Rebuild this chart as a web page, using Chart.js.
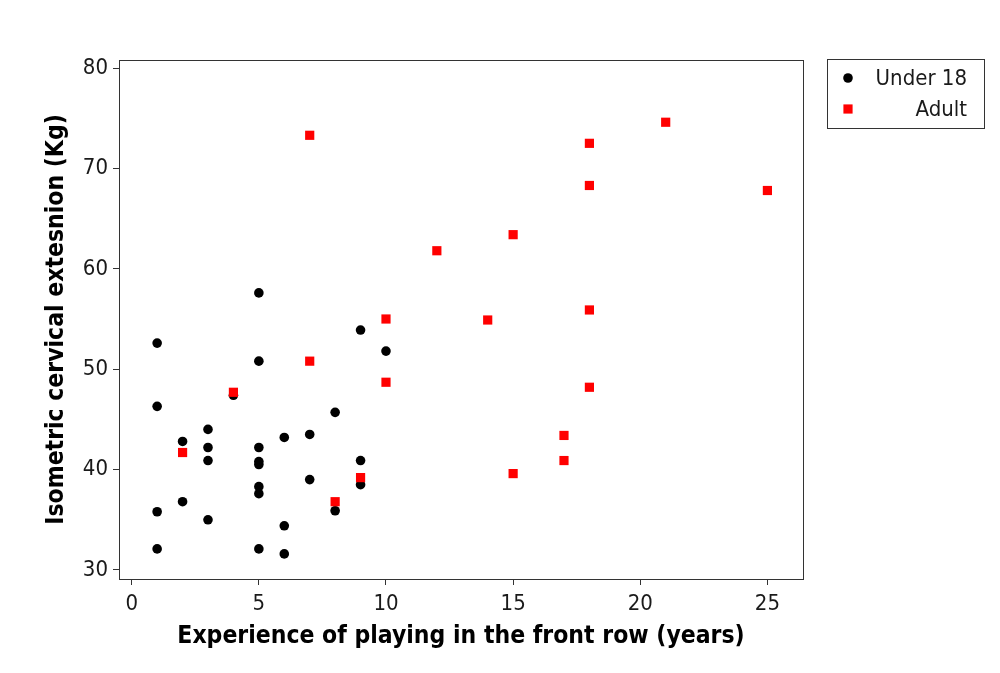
<!DOCTYPE html>
<html>
<head>
<meta charset="utf-8">
<script src="https://cdn.jsdelivr.net/npm/chart.js@4.4.1/dist/chart.umd.min.js"></script>
<style>
  html, body { margin: 0; padding: 0; background: #ffffff; }
  canvas { display: block; }
</style>
</head>
<body>
<canvas id="chart" width="1000" height="673" style="width:1000px;height:673px"></canvas>
<script>
// Experience in the front row (years) and isometric cervical extension (Kg)
const under18Years = [1, 1, 1, 1, 2, 2, 3, 3, 3, 3, 4, 5, 5, 5, 5, 5, 5, 5, 5, 6, 6, 6, 7, 7, 8, 8, 9, 9, 9, 10];
const under18Force = [52.6, 46.3, 35.8, 32.1, 42.8, 36.8, 44.0, 42.2, 40.9, 35.0, 47.4, 57.6, 50.8, 42.2, 40.8, 40.5, 38.3, 37.6, 32.1, 43.2, 34.4, 31.6, 43.5, 39.0, 45.7, 35.9, 53.9, 40.9, 38.5, 51.8];

const adultYears = [2, 4, 7, 7, 8, 9, 10, 10, 12, 14, 15, 15, 17, 17, 18, 18, 18, 18, 21, 25];
const adultForce = [41.7, 47.7, 73.3, 50.8, 36.8, 39.2, 55.0, 48.7, 61.8, 54.9, 63.4, 39.6, 43.4, 40.9, 72.5, 68.3, 55.9, 48.2, 74.6, 67.8];

const seriesNames = ['Under 18', 'Adult'];
const xTickValues = [0, 5, 10, 15, 20, 25];
const yTickValues = [30, 40, 50, 60, 70, 80];
const xTitle = 'Experience of playing in the front row (years)';
const yTitle = 'Isometric cervical extesnion (Kg)';

const toPoints = (xs, ys) => xs.map((x, i) => ({ x: x, y: ys[i] }));

const tickFont = { family: "'DejaVu Sans Condensed', 'DejaVu Sans', sans-serif", size: 22 };
const titleFont = { family: "'DejaVu Sans Condensed', 'DejaVu Sans', sans-serif", size: 24.5, weight: 'bold' };
const axisColor = '#333333';

// Frame around the plot area and the boxed key at the top right
const frameAndKey = {
  id: 'frameAndKey',
  beforeDatasetsDraw(chart) {
    const { ctx, chartArea: a } = chart;
    ctx.save();
    ctx.strokeStyle = axisColor;
    ctx.lineWidth = 1;
    ctx.strokeRect(Math.round(a.left) + 0.5, Math.round(a.top) + 0.5,
                   Math.round(a.right - a.left), Math.round(a.bottom - a.top));
    ctx.restore();
  },
  afterDraw(chart) {
    const { ctx } = chart;
    const box = { left: 827, top: 59, width: 157, height: 69 };
    ctx.save();
    ctx.strokeStyle = axisColor;
    ctx.lineWidth = 1;
    ctx.strokeRect(box.left + 0.5, box.top + 0.5, box.width, box.height);
    ctx.font = "22px 'DejaVu Sans Condensed', 'DejaVu Sans', sans-serif";
    ctx.textAlign = 'right';
    ctx.textBaseline = 'middle';
    const rows = [0, 1].map(k => chart.data.datasets.find(d => d.label === seriesNames[k]));
    rows.forEach((ds, i) => {
      const cy = box.top + 19 + i * 31;
      ctx.fillStyle = ds.backgroundColor;
      Chart.helpers.drawPoint(ctx, {
        pointStyle: ds.pointStyle,
        radius: ds.pointRadius,
        rotation: 0,
        borderWidth: 0
      }, box.left + 21, cy);
      ctx.fillStyle = '#1a1a1a';
      ctx.fillText(ds.label, box.left + 140, cy + 1);
    });
    ctx.restore();
  }
};

new Chart(document.getElementById('chart'), {
  type: 'scatter',
  data: {
    datasets: [
      {
        label: seriesNames[0],
        data: toPoints(under18Years, under18Force),
        pointStyle: 'circle',
        pointRadius: 4.8,
        pointHoverRadius: 4.8,
        backgroundColor: '#000000',
        borderColor: '#000000',
        borderWidth: 0,
        order: 1
      },
      {
        label: seriesNames[1],
        data: toPoints(adultYears, adultForce),
        pointStyle: 'rect',
        pointRadius: 6.5,
        pointHoverRadius: 6.5,
        backgroundColor: '#ff0000',
        borderColor: '#ff0000',
        borderWidth: 0,
        order: 0
      }
    ]
  },
  options: {
    responsive: false,
    devicePixelRatio: 1,
    animation: false,
    events: [],
    layout: { padding: { top: 60, right: 197, bottom: 0, left: 0 } },
    plugins: {
      legend: { display: false },
      tooltip: { enabled: false }
    },
    scales: {
      x: {
        type: 'linear',
        position: 'bottom',
        min: -0.5,
        max: 26.4,
        afterBuildTicks: s => { s.ticks = xTickValues.map(v => ({ value: v })); },
        afterFit: s => { s.height = 94; },
        grid: { drawOnChartArea: false, drawTicks: true, tickLength: 6, color: axisColor },
        border: { display: true, color: axisColor, width: 1 },
        ticks: { font: tickFont, color: '#1a1a1a', padding: 6 },
        title: { display: true, text: xTitle, font: titleFont, color: '#000000', padding: { top: 0, bottom: 22 } }
      },
      y: {
        type: 'linear',
        position: 'left',
        min: 29.1,
        max: 80.8,
        afterBuildTicks: s => { s.ticks = yTickValues.map(v => ({ value: v })); },
        afterFit: s => { s.width = 119; },
        grid: { drawOnChartArea: false, drawTicks: true, tickLength: 6, color: axisColor },
        border: { display: true, color: axisColor, width: 1 },
        ticks: { font: tickFont, color: '#1a1a1a', padding: 5 },
        title: { display: true, text: yTitle, font: titleFont, color: '#000000', padding: { top: 42, bottom: 0 } }
      }
    }
  },
  plugins: [frameAndKey]
});
</script>
</body>
</html>
